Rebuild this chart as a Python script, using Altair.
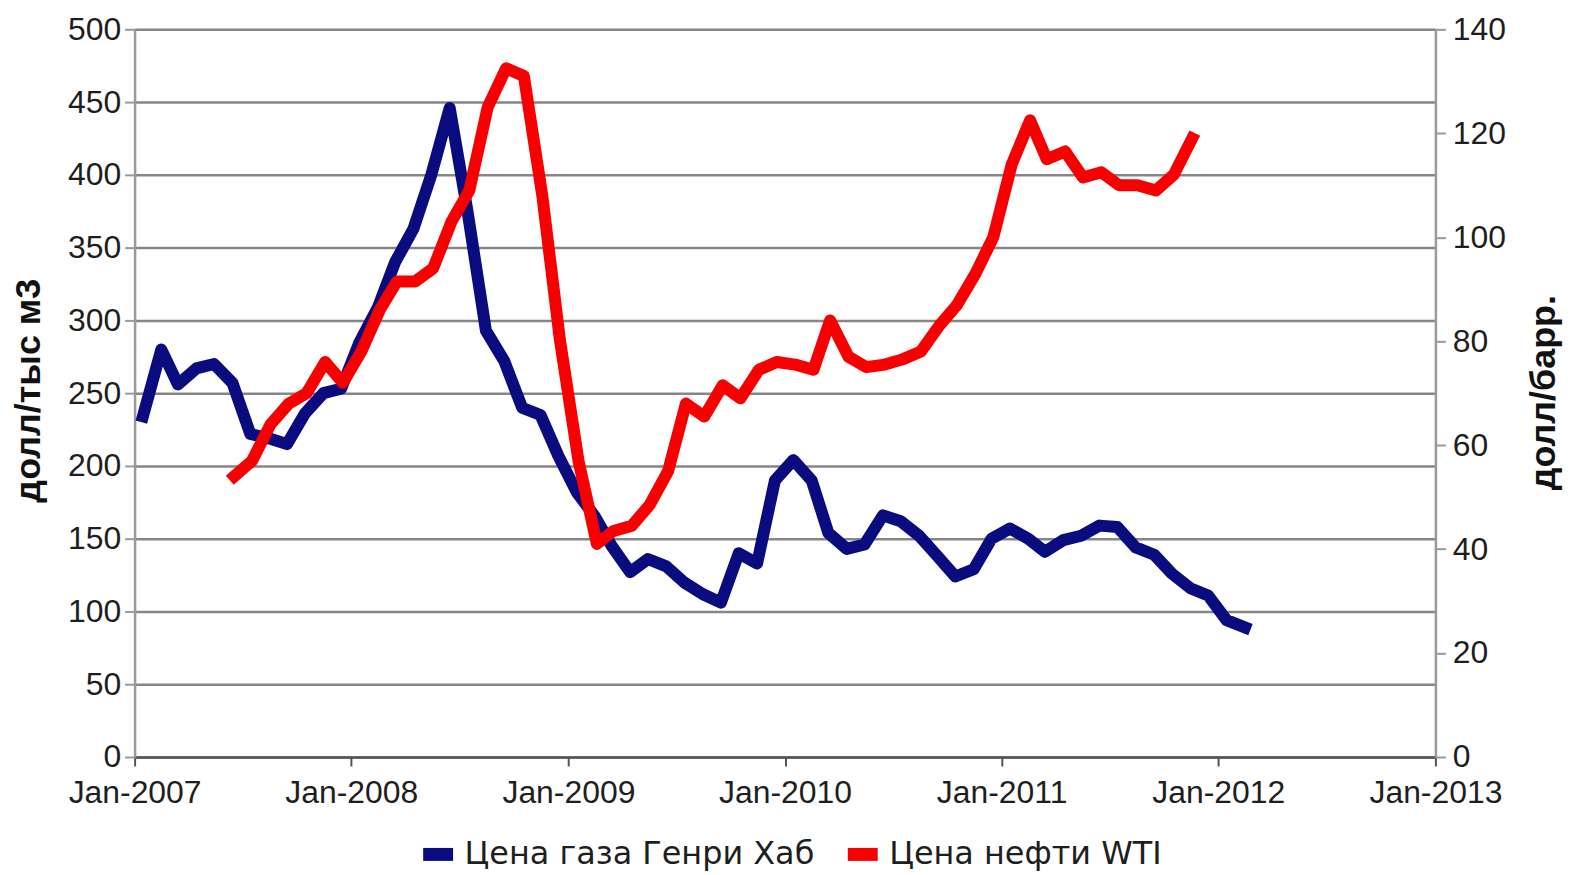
import altair as alt
import pandas as pd

# ---- data (monthly, mid-month) ----
gas_start = "2007-01-15"
gas_values = [234, 280, 256, 267, 270, 257, 222, 219, 215, 236, 250, 253,
              285, 309, 340, 363, 400, 446, 375, 293, 272, 240, 235, 207,
              182, 165, 145, 127, 136, 131, 120, 112, 106, 140, 133, 190,
              204, 190, 154, 143, 146, 166, 162, 152, 138, 124, 129, 150,
              157, 150, 141, 149, 152, 159, 158, 144, 139, 126, 116, 111,
              94, 89]

oil_start = "2007-06-18"
oil_values = [54, 57, 64, 68, 70, 76, 72, 78, 86, 91.5, 91.5, 94,
              103, 109, 125, 132.5, 131, 108, 80, 57, 41, 43.5, 44.5, 48.5,
              55, 68, 65.5, 71.5, 69, 74.5, 76, 75.5, 74.5, 84, 77, 75,
              75.5, 76.5, 78, 83, 87, 93, 100, 114, 122.5, 115, 116.5, 111.5,
              112.5, 110, 110, 109, 112, 119]

series_names = ["Цена газа Генри Хаб", "Цена нефти WTI"]
series_colors = ["#0b0b80", "#f80000"]
year_ticks = list(range(2007, 2014))
gas_ticks = list(range(0, 501, 50))
oil_ticks = list(range(0, 141, 20))
left_title = "долл/тыс м3"
right_title = "долл/барр."


def monthly(start, values, name):
    dates = pd.date_range(start=start, periods=len(values), freq=pd.DateOffset(months=1))
    return pd.DataFrame({"date": dates.strftime("%Y-%m-%d"), "value": values, "series": name})


gas_df = monthly(gas_start, gas_values, series_names[0])
oil_df = monthly(oil_start, oil_values, series_names[1])

LABEL_FONT = "Liberation Sans"
TEXT_COLOR = "#1e1e1e"

x_enc = alt.X(
    "date:T",
    scale=alt.Scale(type="utc",
                    domain=[alt.DateTime(year=2007, month=1, date=1, utc=True),
                            alt.DateTime(year=2013, month=1, date=1, utc=True)]),
    axis=alt.Axis(
        values=[alt.DateTime(year=y, month=1, date=1, utc=True) for y in year_ticks],
        format="%b-%Y", title=None, grid=False,
        labelFont=LABEL_FONT, labelFontSize=32, labelColor=TEXT_COLOR,
        labelPadding=12, labelFlush=False, labelOverlap=False,
        tickSize=9, tickColor="#555", tickWidth=2,
        domainColor="#555", domainWidth=2.5,
    ),
)

color_enc = alt.Color(
    "series:N",
    scale=alt.Scale(domain=series_names, range=series_colors),
    legend=alt.Legend(
        title=None, orient="none", legendX=283, legendY=806,
        direction="horizontal", symbolType="stroke", symbolSize=900,
        symbolStrokeWidth=13, labelFont="DejaVu Sans", labelFontSize=32,
        labelColor=TEXT_COLOR, labelOffset=5, columnPadding=6, padding=0,
        labelLimit=0,
    ),
)

gas_line = alt.Chart(gas_df).mark_line(
    strokeWidth=12, strokeJoin="round", strokeCap="square"
).encode(
    x=x_enc,
    y=alt.Y(
        "value:Q",
        scale=alt.Scale(domain=[0, 500], nice=False, zero=True),
        axis=alt.Axis(
            values=gas_ticks, grid=True, gridColor="#868686", gridWidth=2.5,
            tickSize=10, tickColor="#999", tickWidth=2, labelPadding=4,
            domainColor="#999", domainWidth=2.5,
            labelFont=LABEL_FONT, labelFontSize=32, labelColor=TEXT_COLOR,
            title=left_title, titleFont=LABEL_FONT, titleFontWeight="bold",
            titleFontSize=36, titleColor="#111", titleAngle=270,
            titleX=-106, titleY=362, titleAlign="center", titleBaseline="middle",
        ),
    ),
    color=color_enc,
)

oil_line = alt.Chart(oil_df).mark_line(
    strokeWidth=12, strokeJoin="round", strokeCap="square"
).encode(
    x=x_enc,
    y=alt.Y(
        "value:Q",
        scale=alt.Scale(domain=[0, 140], nice=False, zero=True),
        axis=alt.Axis(
            orient="right", values=oil_ticks, grid=False,
            tickSize=10, tickColor="#999", tickWidth=2, labelPadding=7,
            domainColor="#999", domainWidth=2.5,
            labelFont=LABEL_FONT, labelFontSize=32, labelColor=TEXT_COLOR,
            title=right_title, titleFont=LABEL_FONT, titleFontWeight="bold",
            titleFontSize=36, titleColor="#111", titleAngle=270,
            titleX=108, titleY=364, titleAlign="center", titleBaseline="middle",
        ),
    ),
    color=color_enc,
)

chart = alt.layer(gas_line, oil_line).resolve_scale(
    y="independent"
).properties(
    width=1305, height=730,
    autosize=alt.AutoSizeParams(type="none"),
    padding={"left": 127, "top": 20, "right": 130, "bottom": 116},
).configure_view(stroke=None).configure(background="white")

chart.save("out.html", embed_options={"renderer": "svg", "actions": False})
